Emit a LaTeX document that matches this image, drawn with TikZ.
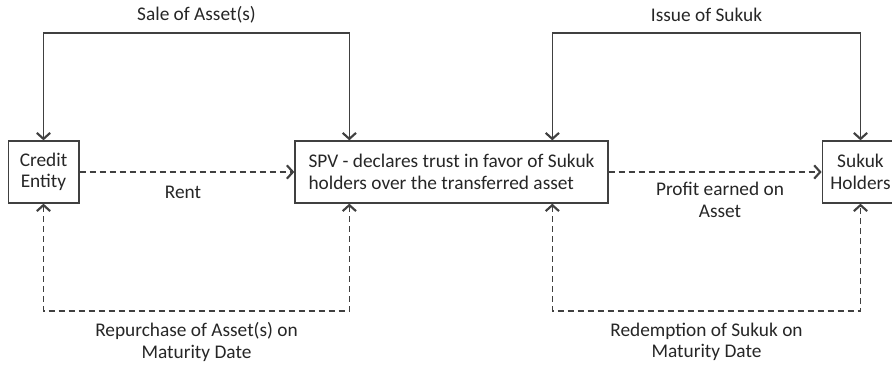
\documentclass[tikz,border=0pt]{standalone}
\usepackage{fontspec}
\setmainfont{Carlito}
\usetikzlibrary{arrows.meta,calc}
\definecolor{lineg}{HTML}{404040}
\definecolor{textg}{HTML}{262626}

\begin{document}
\begin{tikzpicture}[
    x=0.75pt,y=-0.75pt,
    font=\fontsize{14.5}{16}\selectfont,
    box/.style={draw=lineg,line width=1pt,inner sep=6pt,align=center,
                minimum height=46.5pt,text=textg},
    lbl/.style={text=textg,align=center,inner sep=0pt},
    flow/.style={draw=lineg,line width=1.1pt},
    cash/.style={flow,dash pattern=on 4.5pt off 3pt},
    >={Straight Barb[length=4.5pt,width=10pt,line width=1.6pt]}
]
\clip (0,0) rectangle (892,368);

% parties
\node[box,minimum width=53pt] (credit) at (43.5,172) {Credit\\Entity};
\node[box,minimum width=234.75pt,align=left] (spv) at (451.5,172)
    {SPV - declares trust in favor of Sukuk\\holders over the transferred asset};
\node[box,minimum width=53pt] (sukuk) at (860.5,172) {Sukuk\\Holders};

% attachment points on the SPV box
\coordinate (spvNL) at ($(spv.north west)+(55,0)$);
\coordinate (spvNR) at ($(spv.north west)+(258,0)$);
\coordinate (spvSL) at ($(spv.south west)+(55,0)$);
\coordinate (spvSR) at ($(spv.south west)+(258,0)$);
\coordinate (sale) at (196.5,33);
\coordinate (issue) at (706.5,33);
\coordinate (repo) at (196.5,311);
\coordinate (redeem) at (706.5,311);

% asset and sukuk transfers
\draw[flow,<->] (credit.north) |- (sale) -| (spvNL);
\draw[flow,<->] (spvNR) |- (issue) -| (sukuk.north);
\node[lbl] (saleTxt) at (196.5,15) {Sale of Asset(s)};
\node[lbl] (issueTxt) at (706.5,15) {Issue of Sukuk};

% payments
\draw[cash,->] (credit) -- (spv);
\draw[cash,->] (spv) -- (sukuk);
\node[lbl] (rentTxt) at (183,192) {Rent};
\node[lbl] (profitTxt) at (720,200) {Profit earned on\\Asset};

% maturity
\draw[cash,<->] (credit.south) |- (repo) -| (spvSL);
\draw[cash,<->] (spvSR) |- (redeem) -| (sukuk.south);
\node[lbl] (repoTxt) at (196.5,342) {Repurchase of Asset(s) on\\Maturity Date};
\node[lbl] (redeemTxt) at (706.5,342) {Redemption of Sukuk on\\Maturity Date};
\end{tikzpicture}
\end{document}
